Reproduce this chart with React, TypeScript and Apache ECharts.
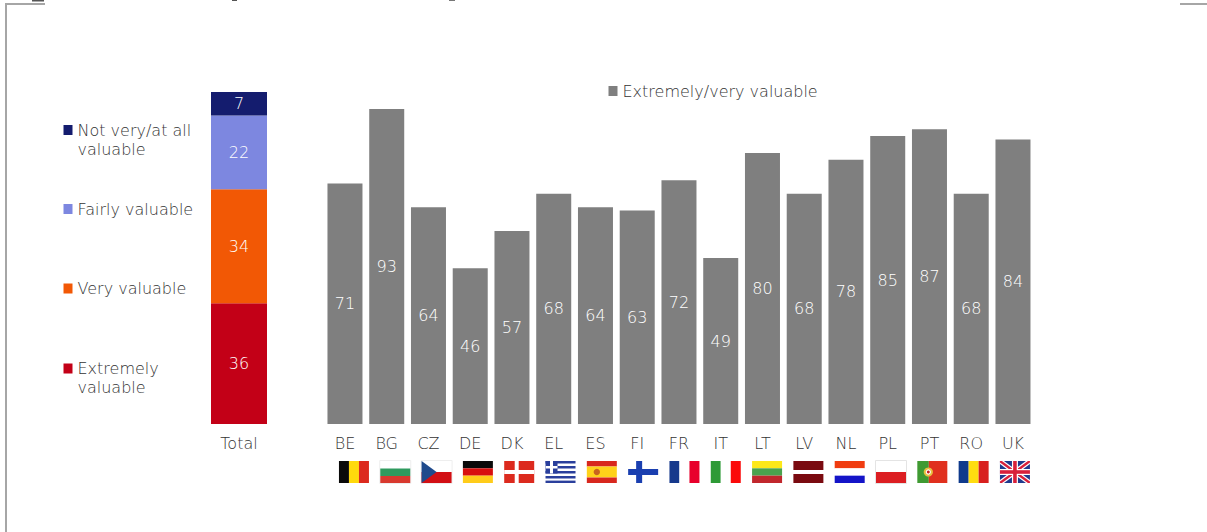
import React, { useEffect, useRef } from "react";
import * as echarts from "echarts";

const countries = ["BE","BG","CZ","DE","DK","EL","ES","FI","FR","IT","LT","LV","NL","PL","PT","RO","UK"];
const countryValues = [71,93,64,46,57,68,64,63,72,49,80,68,78,85,87,68,84];
const totalCategory = ["Total"];
const extremely = [36];
const very = [34];
const fairly = [22];
const notVery = [7];
const legendLines: Record<string,string> = {
  "Not very/at all valuable": "\nNot very/at all\nvaluable",
  "Extremely valuable": "\nExtremely\nvaluable",
};
const FONT = "DejaVu Sans";
const WEIGHT = 200;
const TEXT = "#333333";

const R = (x:number,y:number,w:number,h:number,c:string) => ({ type:"rect", shape:{x,y,width:w,height:h}, style:{fill:c} });
const B = (c:string) => ({ type:"rect", shape:{x:-0.5,y:-0.5,width:31,height:23}, style:{fill:"#ffffff",stroke:c,lineWidth:1} });
const P = (pts:number[][],c:string) => ({ type:"polygon", shape:{points:pts}, style:{fill:c} });
const C = (cx:number,cy:number,r:number,c:string) => ({ type:"circle", shape:{cx,cy,r}, style:{fill:c} });
const vert = (a:string,b:string,c:string) => [R(0,0,10,22,a),R(10,0,10,22,b),R(20,0,10,22,c)];
const horiz = (a:string,b:string,c:string) => [R(0,0,30,7.33,a),R(0,7.33,30,7.34,b),R(0,14.67,30,7.33,c)];
const RED = "#dc2a1e";
const flagDrawings: Record<string,()=>any[]> = {
  BE: () => vert("#0a0a0a","#ffd90c",RED),
  BG: () => [B("#eeeeee"),R(0,7.5,30,7.5,"#2f9a5e"),R(0,15,30,7,"#d8392e")],
  CZ: () => [B("#eeeeee"),R(0,11,30,11,"#d20f14"),P([[0,0],[15,11],[0,22]],"#1f4a8c")],
  DE: () => horiz("#0a0a0a","#d80f0f","#ffcc1a"),
  DK: () => [R(0,0,30,22,"#dc2a1e"),R(10.5,0,4,22,"#ffffff"),R(0,9,30,4,"#ffffff")],
  EL: () => [R(0,0,30,22,"#ffffff"),R(0,0,30,2.5,"#2a3f9c"),R(0,5,30,2.5,"#2a3f9c"),R(0,10,30,2.5,"#2a3f9c"),R(0,15,30,2.5,"#2a3f9c"),R(0,19.6,30,2.4,"#2a3f9c"),R(0,0,12,12.5,"#2a3f9c"),R(4.5,0,3,12.5,"#ffffff"),R(0,5,12,2.5,"#ffffff")],
  ES: () => [R(0,0,30,5.5,"#d8281e"),R(0,5.5,30,11,"#ffd21a"),R(0,16.5,30,5.5,"#d8281e"),C(10,11,3.2,"#c8641e")],
  FI: () => [R(0,0,30,22,"#ffffff"),R(8,0,6,22,"#1a3fb0"),R(0,8,30,6,"#1a3fb0")],
  FR: () => vert("#16398c","#ffffff","#e8002c"),
  IT: () => vert("#2e9a36","#ffffff","#fb0a0a"),
  LT: () => horiz("#fde81a","#4aa24e","#c1272d"),
  LV: () => [R(0,0,30,9,"#7a0a10"),R(0,9,30,4,"#ffffff"),R(0,13,30,9,"#7a0a10")],
  NL: () => horiz("#f03c10","#ffffff","#1414c8"),
  PL: () => [B("#e4e4e4"),R(0,11,30,11,"#dc1e22")],
  PT: () => [R(0,0,11.5,22,"#3f9a32"),R(11.5,0,18.5,22,"#e0301e"),C(11,11,4.6,"#e8c040"),C(11,11,2.6,"#ffffff"),C(11,11,1.5,"#c82020")],
  RO: () => vert("#0f3a8c","#ffdd10","#d8201e"),
  UK: () => [
    R(0,0,30,22,"#1f3a8c"),
    P([[0,0],[4,0],[30,19],[30,22],[26,22],[0,3]],"#ffffff"),
    P([[30,0],[26,0],[0,19],[0,22],[4,22],[30,3]],"#ffffff"),
    P([[0,0],[2,0],[30,20.5],[30,22],[28,22],[0,1.5]],"#d8203a"),
    P([[30,0],[28,0],[0,20.5],[0,22],[2,22],[30,1.5]],"#d8203a"),
    R(12,0,6,22,"#ffffff"),R(0,8,30,6,"#ffffff"),R(13.2,0,3.6,22,"#d8203a"),R(0,9.2,30,3.6,"#d8203a"),
  ],
};

const legendOf = (name:string, left:number, top:number) => ({
  show:true, left, top, padding:0, orient:"vertical", selectedMode:false, itemWidth:9, itemHeight:10,
  icon:"rect",
  data:[name],
  formatter:(n:string)=> legendLines[n] ?? n,
  textStyle:{ fontFamily:FONT, fontWeight:WEIGHT, fontSize:16, color:TEXT, lineHeight:19 },
});

const label = { show:true, position:"inside", color:"#ffffff", fontFamily:FONT, fontWeight:WEIGHT, fontSize:16 };
const axisText = { fontFamily:FONT, fontWeight:WEIGHT, fontSize:16, color:TEXT, margin:11 };

export default function App() {
  const ref = useRef<HTMLDivElement>(null);
  useEffect(() => {
    document.body.style.margin = "0";
    const chart = echarts.init(ref.current!, null, { renderer:"svg" });
    const stackSeries = (name:string, data:number[], color:string) => ({
      name, type:"bar", stack:"total", xAxisIndex:0, yAxisIndex:0, data, barWidth:56,
      itemStyle:{ color }, label,
    });
    chart.setOption({
      animation:false,
      backgroundColor:"#ffffff",
      legend:[
        legendOf("Not very/at all valuable",63.5,101.5),
        legendOf("Fairly valuable",63.5,199.5),
        legendOf("Very valuable",63.5,279),
        legendOf("Extremely valuable",63.5,340),
        legendOf("Extremely/very valuable",608.5,81.5),
      ],
      grid:[
        { left:211, top:92, width:56, height:332 },
        { left:324.1, top:85.3, width:709.75, height:338.7 },
        { left:333.3, top:461, width:702.3, height:22 },
      ],
      xAxis:[
        { type:"category", gridIndex:0, data:totalCategory, axisLine:{show:false}, axisTick:{show:false}, axisLabel:axisText },
        { type:"category", gridIndex:1, data:countries, axisLine:{show:false}, axisTick:{show:false}, axisLabel:{ ...axisText, interval:0 } },
        { type:"category", gridIndex:2, data:countries, show:false },
      ],
      yAxis:[
        { type:"value", gridIndex:0, min:0, max:99, show:false, splitLine:{show:false} },
        { type:"value", gridIndex:1, min:0, max:100, show:false, splitLine:{show:false} },
        { type:"value", gridIndex:2, min:0, max:1, show:false, splitLine:{show:false} },
      ],
      series:[
        stackSeries("Extremely valuable",extremely,"#c30017"),
        stackSeries("Very valuable",very,"#f25805"),
        stackSeries("Fairly valuable",fairly,"#7d87e0"),
        stackSeries("Not very/at all valuable",notVery,"#141c6e"),
        { name:"Extremely/very valuable", type:"bar", xAxisIndex:1, yAxisIndex:1, data:countryValues, barWidth:35,
          itemStyle:{ color:"#7f7f7f" }, label },
        { name:"Flags", type:"custom", xAxisIndex:2, yAxisIndex:2, silent:true, clip:false,
          data:countries.map((c,i)=>[i,1]),
          encode:{ x:0, y:1 },
          renderItem:(_p:any, api:any) => {
            const [x,y] = api.coord([api.value(0),1]);
            const code = countries[api.value(0)];
            return { type:"group", x:x-15, y, children:flagDrawings[code]() };
          } },
      ],
      graphic:[
        { type:"rect", silent:true, shape:{x:5,y:3,width:2,height:529}, style:{fill:"#a6a6a6"} },
        { type:"rect", silent:true, shape:{x:5,y:3,width:40,height:2}, style:{fill:"#a6a6a6"} },
        { type:"rect", silent:true, shape:{x:1180,y:3,width:27,height:2}, style:{fill:"#a6a6a6"} },
        { type:"rect", silent:true, shape:{x:32,y:0,width:12,height:1.5}, style:{fill:"#555555"} },
        { type:"rect", silent:true, shape:{x:232,y:0,width:5,height:1}, style:{fill:"#555555"} },
        { type:"rect", silent:true, shape:{x:449,y:0,width:6,height:1}, style:{fill:"#777777"} },
      ],
    });
    return () => chart.dispose();
  }, []);
  return <div ref={ref} style={{ position:"fixed", left:0, top:0, width:1207, height:532 }} />;
}
